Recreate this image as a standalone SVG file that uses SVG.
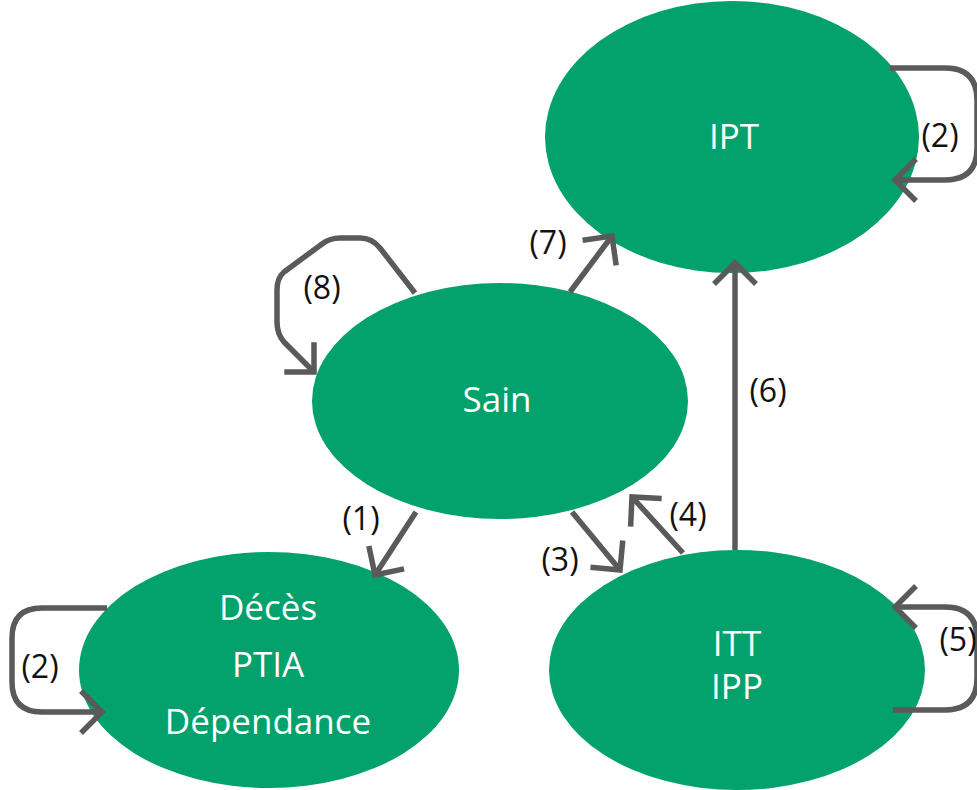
<svg xmlns="http://www.w3.org/2000/svg" width="977" height="790" viewBox="0 0 977 790">
<style>
.node{fill:#03a16b}
.nt{fill:#fff;font-family:"Open Sans","Noto Sans",sans-serif;font-size:35px;text-anchor:middle}
.lb{fill:#111;font-family:"Open Sans","Noto Sans",sans-serif;font-size:32px;text-anchor:middle}
.c{fill:none;stroke:#5a5a5a;stroke-width:5.5;stroke-linejoin:round}
</style>
<defs>
<marker id="ah" viewBox="0 0 50 50" refX="27" refY="25" markerWidth="50" markerHeight="50" markerUnits="userSpaceOnUse" orient="auto">
<path d="M6 4 L27 25 L6 46" fill="none" stroke="#5a5a5a" stroke-width="5.5"/>
</marker>
</defs>
<rect width="977" height="790" fill="#fff"/>
<g id="IPT"><ellipse class="node" cx="732" cy="137" rx="187" ry="136"/><text class="nt" x="734" y="149">IPT</text></g>
<g id="Sain"><ellipse class="node" cx="500" cy="401" rx="188" ry="118"/><text class="nt" x="497" y="412">Sain</text></g>
<g id="Deces"><ellipse class="node" cx="269" cy="670" rx="190" ry="118"/><text class="nt" x="268" y="620">Décès</text><text class="nt" x="268" y="677">PTIA</text><text class="nt" x="268" y="734">Dépendance</text></g>
<g id="ITT"><ellipse class="node" cx="737" cy="670" rx="188" ry="120"/><text class="nt" x="737" y="656">ITT</text><text class="nt" x="737" y="699">IPP</text></g>
<g id="connectors">
<path class="c" d="M890 68 H945 Q977 68 977 100 V148 Q977 180 945 180 H895" marker-end="url(#ah)"/>
<path class="c" d="M415 293 L380 248 Q372 238 360 238 H340 Q330 238 322 244 L284 272 Q277 278 277 290 V322 Q277 334 284 342 L314 372" marker-end="url(#ah)"/>
<path class="c" d="M107 608 H42 Q12 608 12 638 V682 Q12 712 42 712 H102" marker-end="url(#ah)"/>
<path class="c" d="M893 710 H945 Q977 710 977 678 V639 Q977 607 945 607 H895" marker-end="url(#ah)"/>
<path class="c" d="M570 292 L612 236" marker-end="url(#ah)"/>
<path class="c" d="M416 512 L375 575" marker-end="url(#ah)"/>
<path class="c" d="M572 512 L620 570" marker-end="url(#ah)"/>
<path class="c" d="M683 553 L632 497" marker-end="url(#ah)"/>
<path class="c" d="M735 550 V263" marker-end="url(#ah)"/>
</g>
<g id="labels">
<text class="lb" x="548" y="254">(7)</text>
<text class="lb" x="322" y="299">(8)</text>
<text class="lb" x="768" y="402">(6)</text>
<text class="lb" x="361" y="530">(1)</text>
<text class="lb" x="688" y="526">(4)</text>
<text class="lb" x="560" y="571">(3)</text>
<text class="lb" x="940" y="147">(2)</text>
<text class="lb" x="40" y="678">(2)</text>
<text class="lb" x="958" y="651">(5)</text>
</g>
</svg>
